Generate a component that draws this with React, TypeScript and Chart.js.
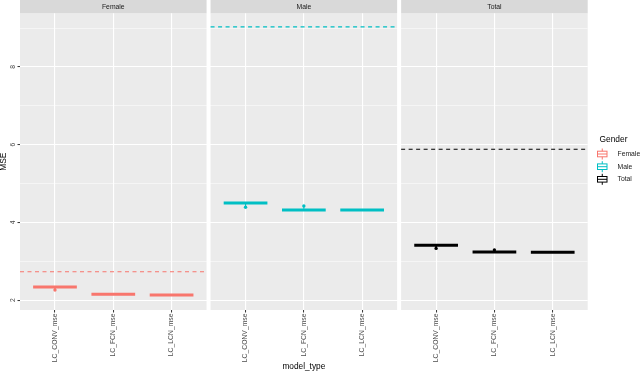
import React, { useEffect, useRef } from 'react';
import { Chart, registerables } from 'chart.js';

Chart.register(...registerables);

// ---- data ----
const categories = ['LC_CONV_mse', 'LC_FCN_mse', 'LC_LCN_mse'];
const genders = ['Female', 'Male', 'Total'];
const genderColors = ['#F8766D', '#00BFC4', '#000000'];
const femaleBox = [2.34, 2.15, 2.13];
const maleBox = [4.5, 4.32, 4.32];
const totalBox = [3.41, 3.24, 3.23];
const femaleOutliers = [2.26, null, null];
const maleOutliers = [4.39, 4.42, null];
const totalOutliers = [3.33, 3.29, null];
const referenceLines = [2.73, 9.03, 5.88];
const yTickValues = [2, 3, 4, 5, 6, 7, 8, 9];
const yTickLabels = ['2', '', '4', '', '6', '', '8', ''];

// ---- layout constants (panel geometry in x units) ----
const PANEL_UNITS = 3.2;
const GAP = 0.0686;
const EXPAND = 0.6;
const BOX_HALF = 0.375;
const FONT = '"Liberation Sans", Arial, sans-serif';

const panelStart = (p: number) => p * (PANEL_UNITS + GAP);
const catCenter = (p: number, i: number) => panelStart(p) + EXPAND + i;

export default function App() {
  const ref = useRef<HTMLCanvasElement | null>(null);

  useEffect(() => {
    document.body.style.margin = '0';
    const canvas = ref.current;
    if (!canvas) return;

    const boxes = [femaleBox, maleBox, totalBox];
    const outliers = [femaleOutliers, maleOutliers, totalOutliers];
    const datasets: any[] = [];

    genders.forEach((g, p) => {
      const color = genderColors[p];
      datasets.push({
        label: g + ' reference',
        showLine: true,
        data: [
          { x: panelStart(p), y: referenceLines[p] },
          { x: panelStart(p) + PANEL_UNITS, y: referenceLines[p] },
        ],
        borderColor: color,
        borderWidth: 1.1,
        borderDash: [4, 3.5],
        pointRadius: 0,
      });
      const boxPts: any[] = [];
      const whiskPts: any[] = [];
      const outPts: any[] = [];
      boxes[p].forEach((v, i) => {
        const c = catCenter(p, i);
        boxPts.push({ x: c - BOX_HALF, y: v }, { x: c + BOX_HALF, y: v }, { x: c, y: null });
        const o = outliers[p][i];
        if (o !== null) {
          whiskPts.push({ x: c, y: v }, { x: c, y: o }, { x: c, y: null });
          outPts.push({ x: c, y: o });
        }
      });
      datasets.push({
        label: g,
        showLine: true,
        spanGaps: false,
        data: boxPts,
        borderColor: color,
        borderWidth: 3,
        borderCapStyle: 'butt',
        pointRadius: 0,
      });
      datasets.push({
        label: g + ' whisker',
        showLine: true,
        spanGaps: false,
        data: whiskPts,
        borderColor: color,
        borderWidth: 1,
        pointRadius: 0,
      });
      datasets.push({
        label: g + ' outliers',
        showLine: false,
        data: outPts,
        backgroundColor: color,
        borderColor: color,
        pointRadius: 1.7,
        pointBorderWidth: 0,
      });
    });

    const xMax = 3 * PANEL_UNITS + 2 * GAP;
    const centers: number[] = [];
    for (let p = 0; p < 3; p++) for (let i = 0; i < 3; i++) centers.push(catCenter(p, i));

    const decor = {
      id: 'facetDecor',
      beforeDraw(chart: any) {
        const { ctx, chartArea, scales } = chart;
        const xs = scales.x;
        ctx.save();
        for (let p = 0; p < 3; p++) {
          const x0 = xs.getPixelForValue(panelStart(p));
          const x1 = xs.getPixelForValue(panelStart(p) + PANEL_UNITS);
          ctx.fillStyle = '#EBEBEB';
          ctx.fillRect(x0, chartArea.top, x1 - x0, chartArea.bottom - chartArea.top);
          ctx.fillStyle = '#D9D9D9';
          ctx.fillRect(x0, 0, x1 - x0, chartArea.top);
          ctx.fillStyle = '#1A1A1A';
          ctx.font = `6.8px ${FONT}`;
          ctx.textAlign = 'center';
          ctx.textBaseline = 'middle';
          ctx.fillText(genders[p], (x0 + x1) / 2, chartArea.top / 2 + 0.3);
        }
        ctx.restore();
      },
      afterDraw(chart: any) {
        const { ctx, scales } = chart;
        const ys = scales.y;
        ctx.save();
        // y tick labels (rotated like the original)
        ctx.fillStyle = '#4D4D4D';
        ctx.font = `6.8px ${FONT}`;
        ctx.textAlign = 'center';
        ctx.textBaseline = 'middle';
        yTickValues.forEach((v, i) => {
          if (!yTickLabels[i]) return;
          ctx.save();
          ctx.translate(13, ys.getPixelForValue(v));
          ctx.rotate(-Math.PI / 2);
          ctx.fillText(yTickLabels[i], 0, 0);
          ctx.restore();
        });
        // legend
        ctx.fillStyle = '#000000';
        ctx.font = `8.4px ${FONT}`;
        ctx.textAlign = 'left';
        ctx.textBaseline = 'middle';
        ctx.fillText('Gender', 599.5, 140);
        const keyY = [154, 166.7, 179.3];
        genders.forEach((g, i) => {
          const cy = keyY[i];
          const color = genderColors[i];
          ctx.strokeStyle = color;
          ctx.lineWidth = 1;
          ctx.fillStyle = '#FFFFFF';
          ctx.fillRect(597.5, cy - 2.8, 9.5, 5.6);
          ctx.strokeRect(597.5, cy - 2.8, 9.5, 5.6);
          ctx.beginPath();
          ctx.moveTo(597.5, cy);
          ctx.lineTo(607, cy);
          ctx.moveTo(602.25, cy - 2.8);
          ctx.lineTo(602.25, cy - 5.5);
          ctx.moveTo(602.25, cy + 2.8);
          ctx.lineTo(602.25, cy + 5.5);
          ctx.stroke();
          ctx.fillStyle = '#1A1A1A';
          ctx.font = `6.8px ${FONT}`;
          ctx.fillText(g, 617.5, cy);
        });
        ctx.restore();
      },
    };

    const chart = new Chart(canvas, {
      type: 'scatter',
      data: { datasets },
      plugins: [decor],
      options: {
        responsive: false,
        animation: false,
        events: [],
        layout: { padding: { top: 13.3, right: 52.3, left: 0, bottom: 0 } },
        plugins: { legend: { display: false }, tooltip: { enabled: false } },
        scales: {
          x: {
            type: 'linear',
            min: 0,
            max: xMax,
            afterBuildTicks: (scale: any) => {
              scale.ticks = centers.map((v) => ({ value: v }));
            },
            afterFit: (scale: any) => {
              scale.height = 63;
            },
            ticks: {
              autoSkip: false,
              minRotation: 90,
              maxRotation: 90,
              padding: 1,
              color: '#4D4D4D',
              font: { family: FONT, size: 6.8 },
              callback: (_v: any, idx: number) => categories[idx % 3],
            },
            grid: {
              color: '#FFFFFF',
              lineWidth: 1.1,
              tickLength: 2.5,
              tickColor: '#333333',
              tickWidth: 1,
            },
            border: { display: false },
            title: {
              display: true,
              text: 'model_type',
              color: '#000000',
              font: { family: FONT, size: 8.3, lineHeight: 1.2 },
              padding: { top: 0, bottom: 1 },
            },
          },
          y: {
            type: 'linear',
            min: 1.745,
            max: 9.38,
            afterBuildTicks: (scale: any) => {
              scale.ticks = yTickValues.map((v) => ({ value: v }));
            },
            afterFit: (scale: any) => {
              scale.width = 20;
            },
            ticks: { display: false },
            grid: {
              color: '#FFFFFF',
              lineWidth: (c: any) => (c.tick && c.tick.value % 2 === 0 ? 1.1 : 0.5),
              tickLength: 2.5,
              tickColor: (c: any) => (c.tick && c.tick.value % 2 === 0 ? '#333333' : 'rgba(0,0,0,0)'),
              tickWidth: 1,
            },
            border: { display: false },
            title: {
              display: true,
              text: 'MSE',
              color: '#000000',
              font: { family: FONT, size: 8.3, lineHeight: 1 },
              padding: { top: 0, bottom: 0 },
            },
          },
        },
      },
    });

    return () => chart.destroy();
  }, []);

  return (
    <div style={{ width: 640, height: 373 }}>
      <canvas ref={ref} width={640} height={373} style={{ display: 'block' }} />
    </div>
  );
}
